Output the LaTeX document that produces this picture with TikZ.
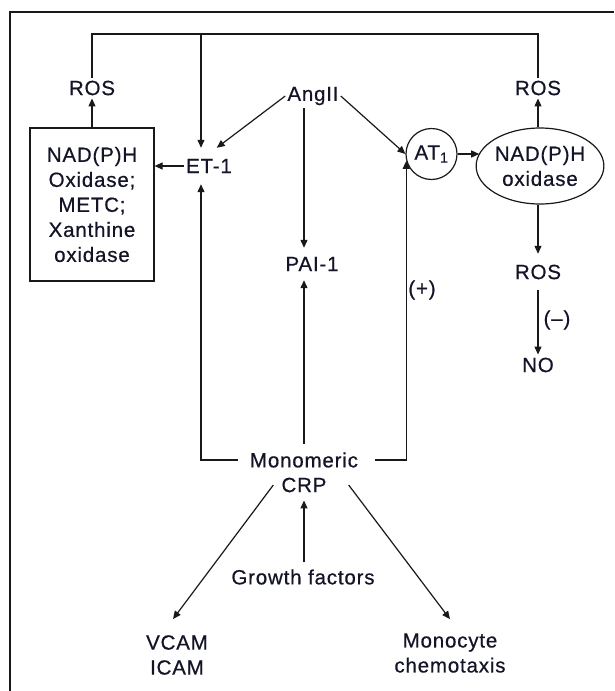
\documentclass[tikz,border=0pt]{standalone}
\usepackage{fontspec}
\setmainfont{Liberation Sans}[LetterSpace=4, FakeBold=0.6]
\usetikzlibrary{arrows.meta,shapes.geometric}
\definecolor{ink}{RGB}{20,20,40}
\definecolor{lin}{RGB}{25,25,25}
\begin{document}
\begin{tikzpicture}[x=1pt,y=-1pt,
  lbl/.style={font=\fontsize{20.5}{25}\selectfont, text=ink, inner sep=3pt, align=center},
  ln/.style={draw=lin, line width=1.2pt},
  arr/.style={ln, -{Triangle[length=8pt,width=7pt]}}]
\useasboundingbox[fill=white] (0,0) rectangle (614,691);
% frame (cropped: top and left edges)
\coordinate (frTR) at (614,12);
\coordinate (frTL) at (10,12);
\coordinate (frBL) at (10,691);
\draw[draw=lin, line width=1.8pt] (frTR) -- (frTL) -- (frBL);

% nodes
\node[lbl] (rosL) at (92,88) {ROS};
\node[lbl, draw=lin, line width=1.2pt, minimum width=124pt, minimum height=153pt] (box) at (92,204.5)
  {NAD(P)H\\Oxidase;\\METC;\\Xanthine\\oxidase};
\node[lbl, inner xsep=2pt, minimum height=36pt] (et1) at (209,166) {ET-1};
\node[lbl, inner xsep=2pt] (ang) at (313,96) {AngII};
\node[lbl, minimum height=32pt] (pai) at (312,264) {PAI-1};
\node[lbl, circle, draw=lin, line width=1.2pt, minimum size=51pt, inner sep=0pt] (at1) at (431.5,154) {AT\textsubscript{1}};
\node[lbl, ellipse, draw=lin, line width=1.2pt, minimum width=125pt, minimum height=76pt, inner sep=0pt] (ell) at (540,166)
  {NAD(P)H\\oxidase};
\node[lbl] (rosR) at (538,88) {ROS};
\node[lbl, minimum height=36pt] (ros2) at (538,272) {ROS};
\node[lbl] (no) at (538,365) {NO};
\node[lbl] (plus) at (422,290) {(+)};
\node[lbl] (minus) at (557,320) {(–)};
\node[lbl, inner xsep=12pt, inner ysep=8pt] (mono) at (304,460) {Monomeric};
\node[lbl, inner xsep=8pt, inner ysep=8pt] (crp) at (304,485) {CRP};
\node[lbl, inner ysep=7pt] (gf) at (303,577) {Growth factors};
\node[lbl, inner ysep=16pt] (vcam) at (177,655) {VCAM\\ICAM};
\node[lbl, inner ysep=14pt] (mc) at (450,653) {Monocyte\\chemotaxis};

% helper coordinates
\coordinate (fbL) at (201,34);
\coordinate (fbTop) at (300,34);

% feedback loop of ROS
\draw[ln] (rosL.north) |- (fbTop) -| (rosR.north);
\draw[arr] (fbL) -- (fbL |- et1.north);

% left side
\draw[arr] (box.north -| rosL) -- (rosL.south);
\draw[arr] (et1.west) -- (et1.west -| box.east);
\draw[arr] (ang.west) -- (et1.67);

% AngII
\draw[arr] (mono.north |- ang.south) -- (mono.north |- pai.north);
\draw[arr] (ang.east) -- (at1.west);

% right side
\draw[arr] (at1.east) -- (at1.east -| ell.168);
\draw[arr] (rosR |- ell.north) -- (rosR.south);
\draw[arr] (rosR |- ell.south) -- (ros2.north);
\draw[arr] (ros2.south) -- (no.north);

% monomeric CRP
\draw[arr] (mono.west) -| (fbL |- et1.south);
\draw[arr] (mono.north) -- (mono.north |- pai.south);
\draw[arr] ([xshift=5pt]mono.east) -| (at1.195);
\draw[arr] (gf.north -| crp) -- (crp.south);
\draw[arr] (crp.west) -- ([xshift=-4pt]vcam.north);
\draw[arr] ([xshift=14pt]crp.east) -- (mc.north);
\end{tikzpicture}
\end{document}
